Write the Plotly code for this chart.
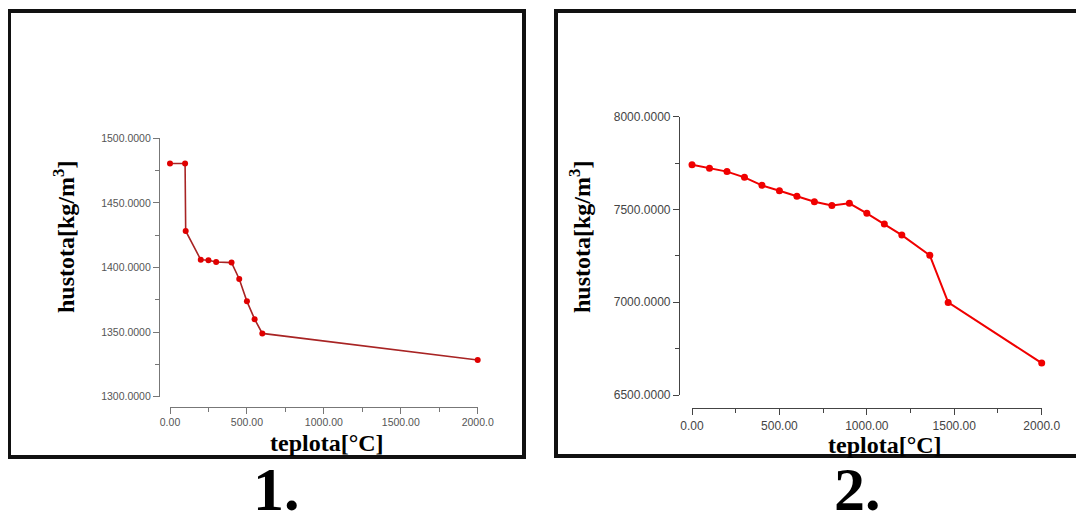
import plotly.graph_objects as go

# page body has an 8px margin: draw a 1076x514 figure placed at (8, 8)
OFF = 8
W, H = 1076, 514

# ---- data: chart 1 ----
temp1 = [0, 98, 102, 200, 250, 300, 400, 450, 500, 550, 600, 2000]
dens1 = [1480.5, 1480.5, 1428.3, 1406.0, 1405.6, 1404.3, 1403.8, 1391.1, 1373.8, 1360.0, 1349.0, 1328.4]

# ---- data: chart 2 ----
temp2 = [0, 100, 200, 300, 400, 500, 600, 700, 800, 900, 1000, 1100, 1200, 1360, 1465, 2000]
dens2 = [7741, 7722, 7704, 7673, 7630, 7601, 7571, 7542, 7522, 7533, 7479, 7422, 7362, 7253, 6999, 6672]

x_tickvals = [0, 500, 1000, 1500, 2000]
x_ticktext = ["0.00", "500.00", "1000.00", "1500.00", "2000.0"]
x_minor = [250, 750, 1250, 1750]
y1_tickvals = [1300, 1350, 1400, 1450, 1500]
y1_minor = [1325, 1375, 1425, 1475]
y2_tickvals = [6500, 7000, 7500, 8000]
y2_minor = [6750, 7250, 7750]

panel_labels = ["1.", "2."]
x_title = "teplota[°C]"
y_title = "hustota[kg/m<sup>3</sup>]"


def px(x):
    return (x - OFF) / W


def py(y):
    return 1 - (y - OFF) / H


fig = go.Figure()
fig.add_trace(go.Scatter(
    x=temp1, y=dens1, mode="lines+markers", xaxis="x", yaxis="y",
    line=dict(color="#a82424", width=1.6),
    marker=dict(color="#e00000", size=6),
    cliponaxis=False, showlegend=False,
))
fig.add_trace(go.Scatter(
    x=temp2, y=dens2, mode="lines+markers", xaxis="x2", yaxis="y2",
    line=dict(color="#f00000", width=2),
    marker=dict(color="#f00000", size=7),
    cliponaxis=False, showlegend=False,
))

tickfont_l = dict(family="Liberation Sans, Arial", size=10.5, color="#555555")
tickfont_r = dict(family="Liberation Sans, Arial", size=12, color="#444444")
axis_common = dict(showgrid=False, zeroline=False, showline=True, linewidth=1.2,
                   ticks="outside", ticklen=6, tickwidth=1.2, automargin=False)

fig.update_layout(
    width=W, height=H,
    margin=dict(l=0, r=0, t=0, b=0, pad=0, autoexpand=False),
    paper_bgcolor="white", plot_bgcolor="white",
    xaxis=dict(domain=[px(170), px(477.7)], range=[0, 2000], anchor="free",
               position=py(406.7), tickvals=x_tickvals, ticktext=x_ticktext,
               linecolor="#777777", tickcolor="#777777", tickfont=tickfont_l,
               minor=dict(tickvals=x_minor, ticks="outside", ticklen=4, tickcolor="#777777"),
               **axis_common),
    yaxis=dict(domain=[py(396.7), py(138.3)], range=[1300, 1500], anchor="free",
               position=px(159), tickvals=y1_tickvals, tickformat=".4f",
               linecolor="#777777", tickcolor="#777777", tickfont=tickfont_l,
               minor=dict(tickvals=y1_minor, ticks="outside", ticklen=4, tickcolor="#777777"),
               **axis_common),
    xaxis2=dict(domain=[px(692), px(1041.7)], range=[0, 2000], anchor="free",
                position=py(408), tickvals=x_tickvals, ticktext=x_ticktext,
                linecolor="#444444", tickcolor="#444444", tickfont=tickfont_r,
                minor=dict(tickvals=x_minor, ticks="outside", ticklen=4, tickcolor="#444444"),
                **axis_common),
    yaxis2=dict(domain=[py(395), py(116.7)], range=[6500, 8000], anchor="free",
                position=px(679), tickvals=y2_tickvals, tickformat=".4f",
                linecolor="#444444", tickcolor="#444444", tickfont=tickfont_r,
                minor=dict(tickvals=y2_minor, ticks="outside", ticklen=4, tickcolor="#444444"),
                **axis_common),
)

xtitle_font = dict(family="Liberation Serif, Times New Roman", size=24, color="black")
ytitle_font = dict(family="Liberation Serif, Times New Roman", size=24, color="black")
label_font = dict(family="Liberation Serif, Times New Roman", size=62, color="black")

annotations = [
    dict(text="<b>%s</b>" % x_title, x=px(326.5), y=py(443), font=xtitle_font),
    dict(text="<b>%s</b>" % x_title, x=px(885), y=py(445), font=xtitle_font),
    dict(text="<b>%s</b>" % y_title, x=px(64), y=py(237), textangle=-90, font=ytitle_font),
    dict(text="<b>%s</b>" % y_title, x=px(580), y=py(237), textangle=-90, font=ytitle_font),
]
for a in annotations:
    a.update(yanchor="middle")
annotations += [
    dict(text="<b>%s</b>" % panel_labels[0], x=px(276.5), y=0, yanchor="bottom", yshift=-3, font=label_font),
    dict(text="<b>%s</b>" % panel_labels[1], x=px(857), y=0, yanchor="bottom", yshift=-3, font=label_font),
]
for a in annotations:
    a.update(xref="paper", yref="paper", showarrow=False, xanchor="center")
fig.update_layout(annotations=annotations)

fig.update_layout(shapes=[
    dict(type="rect", xref="paper", yref="paper", x0=px(9), x1=px(524), y0=py(457), y1=py(11),
         line=dict(color="#111111", width=4)),
    dict(type="rect", xref="paper", yref="paper", x0=px(556), x1=px(1100), y0=py(456), y1=py(11),
         line=dict(color="#111111", width=4)),
])

fig.write_html("out.html")
